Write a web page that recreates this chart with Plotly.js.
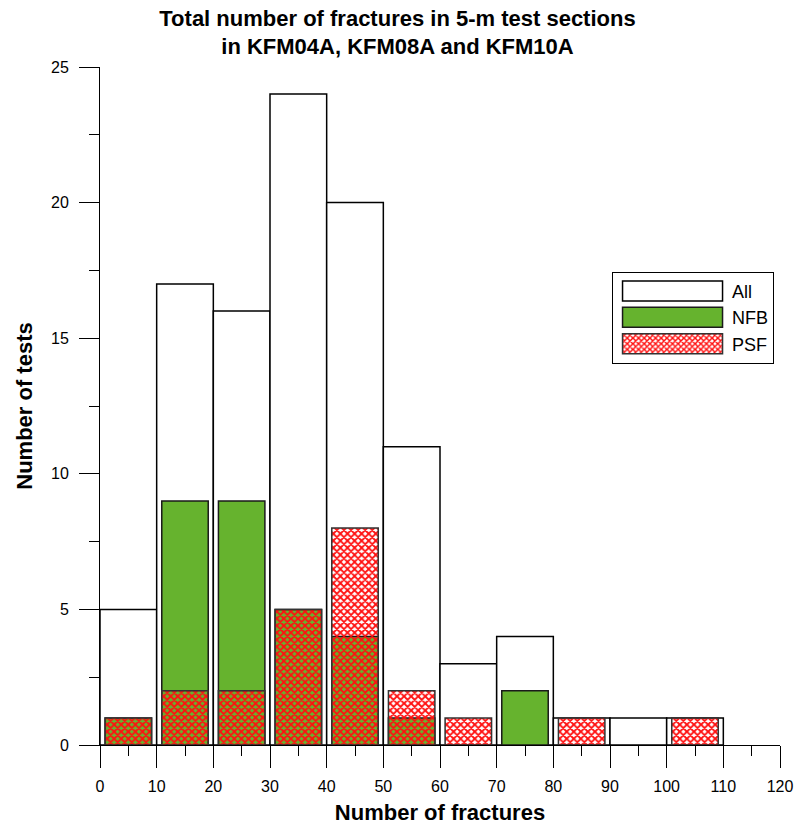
<!DOCTYPE html>
<html>
<head>
<meta charset="utf-8">
<script src="https://cdn.plot.ly/plotly-3.0.1.min.js"></script>
<style>
  html, body { margin: 0; padding: 0; background: #ffffff; }
  #chart { width: 795px; height: 825px; }
</style>
</head>
<body>
<div id="chart"></div>
<script>
// Histogram bins: 10-fracture wide classes, given by their centres
const binCenters = [5, 15, 25, 35, 45, 55, 65, 75, 85, 95, 105];
// Number of tests per class
const allTests = [5, 17, 16, 24, 20, 11, 3, 4, 1, 1, 1];
const nfbTests = [1, 9, 9, 5, 4, 1, 0, 2, 0, 0, 0];
const psfTests = [1, 2, 2, 5, 8, 2, 1, 0, 1, 0, 1];
// Axis ticks
const xTickVals = [0, 10, 20, 30, 40, 50, 60, 70, 80, 90, 100, 110, 120];
const yTickVals = [0, 5, 10, 15, 20, 25];

const seriesNames = ['All', 'NFB', 'PSF'];

// keep only classes that hold at least one test
function nonZero(xs, ys) {
  const x = [], y = [];
  xs.forEach((v, i) => { if (ys[i] > 0) { x.push(v); y.push(ys[i]); } });
  return { x, y };
}

const fontFamily = '"Liberation Sans", Arial, sans-serif';
const nfb = nonZero(binCenters, nfbTests);
const psf = nonZero(binCenters, psfTests);

const traces = [
  {
    type: 'bar', name: seriesNames[0], legendgroup: 'g1',
    x: binCenters, y: allTests, width: 10,
    marker: { color: '#ffffff', line: { color: '#000000', width: 1.5 } },
    hoverinfo: 'skip'
  },
  {
    type: 'bar', name: seriesNames[1], legendgroup: 'g2',
    x: nfb.x, y: nfb.y, width: 8.2,
    marker: { color: '#66b32e', line: { color: '#1a1a1a', width: 1.5 } },
    hoverinfo: 'skip'
  },
  {
    type: 'bar', name: seriesNames[2], legendgroup: 'g3',
    x: psf.x, y: psf.y, width: 8.2,
    marker: {
      color: '#ff1010',
      line: { color: '#333333', width: 1.5 },
      pattern: { shape: 'x', fillmode: 'replace', size: 5, solidity: 0.6 }
    },
    hoverinfo: 'skip'
  }
];

const layout = {
  width: 795, height: 825,
  margin: { l: 100, r: 15, t: 67, b: 80 },
  paper_bgcolor: '#ffffff', plot_bgcolor: '#ffffff',
  font: { family: fontFamily, color: '#000000' },
  barmode: 'overlay',
  showlegend: true,
  title: {
    text: 'Total number of fractures in 5-m test sections<br>in KFM04A, KFM08A and KFM10A',
    font: { family: fontFamily, size: 22, weight: 'bold', color: '#000000' },
    x: 0.5, xref: 'container', xanchor: 'center',
    y: 0.969, yref: 'container', yanchor: 'top'
  },
  xaxis: {
    range: [0, 120], tickvals: xTickVals, ticktext: xTickVals.map(String),
    ticks: 'outside', ticklen: 22, tickwidth: 1, tickcolor: '#000000',
    minor: { tick0: 0, dtick: 5, ticks: 'outside', ticklen: 10, tickwidth: 1, tickcolor: '#000000', showgrid: false },
    showline: true, linecolor: '#000000', linewidth: 1,
    showgrid: false, zeroline: false, fixedrange: true,
    tickfont: { family: fontFamily, size: 16, color: '#000000' },
    ticklabelstandoff: 5,
    automargin: false,
    title: { text: 'Number of fractures', font: { family: fontFamily, size: 22, weight: 'bold' }, standoff: 10 }
  },
  yaxis: {
    range: [0, 25], tickvals: yTickVals, ticktext: yTickVals.map(String),
    ticks: 'outside', ticklen: 20, tickwidth: 1, tickcolor: '#000000',
    minor: { tick0: 0, dtick: 2.5, ticks: 'outside', ticklen: 10, tickwidth: 1, tickcolor: '#000000', showgrid: false },
    showline: true, linecolor: '#000000', linewidth: 1,
    showgrid: false, zeroline: false, fixedrange: true,
    tickfont: { family: fontFamily, size: 16, color: '#000000' },
    ticklabelstandoff: 7,
    automargin: false,
    title: { text: 'Number of tests', font: { family: fontFamily, size: 22, weight: 'bold' }, standoff: 12 }
  },
  legend: {
    x: 0.753, y: 0.698, xanchor: 'left', yanchor: 'top',
    bgcolor: '#ffffff', bordercolor: '#000000', borderwidth: 1,
    font: { family: fontFamily, size: 18, color: '#000000' },
    traceorder: 'normal', tracegroupgap: 1, itemwidth: 109,
    itemclick: false, itemdoubleclick: false
  }
};

Plotly.newPlot('chart', traces, layout, { displayModeBar: false, staticPlot: true }).then(gd => {
  // widen the legend swatches into long bars
  gd.querySelectorAll('.legend .legendpoints path').forEach(p => {
    p.setAttribute('d', 'M50,10H-50V-10H50Z');
  });
});
</script>
</body>
</html>
